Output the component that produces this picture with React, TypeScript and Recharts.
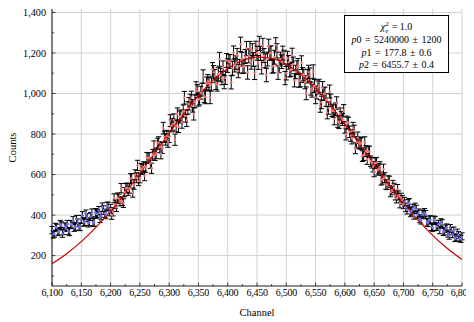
import React from "react";
import {
  CartesianGrid,
  ComposedChart,
  ErrorBar,
  Line,
  Scatter,
  XAxis,
  YAxis,
} from "recharts";

const binWidth = 4;
const fitFrom = 6200;
const fitTo = 6700;

// counts, channels 6100, 6104, ... 6800
const countsA = [
  326, 308, 337, 320, 348, 321, 338, 321, 355, 373, 344, 362, 342, 397, 368,
  387, 367, 410, 365, 405, 422, 398, 425, 402, 442,
  432, 416, 453, 487, 467, 469, 513, 535, 531, 581, 551, 584, 569, 630, 638, 636, 682, 656, 698, 696,
  752, 735, 731, 786, 790, 786, 840, 870, 840, 836, 889, 913, 889, 929, 965, 939, 961, 1012, 975, 1019,
  987, 1049, 1049, 1045, 1105, 1052, 1096, 1091, 1127, 1078, 1138, 1158, 1124, 1140, 1188, 1135, 1169, 1135, 1222, 1186,
  1154, 1167, 1223, 1153, 1198, 1237, 1161, 1170, 1199, 1134, 1179, 1211, 1136, 1157, 1179, 1100, 1154, 1118, 1146, 1106,
  1139, 1066, 1095, 1056, 1085, 1093, 1014, 1037, 1005, 1038, 956, 997, 968, 928, 966, 913, 923, 862, 899, 872,
  833, 859, 811, 779, 815, 758, 758, 756, 696, 716, 714, 666, 638, 656, 622, 638, 577, 585, 549, 568,
  523, 534, 482, 497, 486, 453,
  438, 455, 412, 432, 438, 402, 382, 405, 412, 365, 376, 343, 376, 343, 355,
  363, 317, 333, 309, 335, 306, 286, 313, 286, 295,
];

// counts for the bins in between, channels 6102, 6106, ... 6798
const countsB = [
  304, 341, 316, 355, 308, 343, 355, 316, 352, 338, 379, 342, 379, 364, 405,
  360, 393, 363, 412, 406, 383, 439, 409, 443, 417,
  399, 483, 438, 481, 533, 459, 533, 520, 580, 511, 599, 645, 583, 626, 594, 683, 682, 631, 739, 705,
  759, 704, 829, 773, 762, 866, 848, 772, 899, 884, 858, 979, 867, 949, 980, 899, 1026, 969, 1004, 1084,
  981, 1061, 981, 1119, 1086, 1044, 1169, 1076, 1056, 1163, 1158, 1055, 1200, 1152, 1111, 1243, 1132, 1183, 1104, 1222,
  1211, 1102, 1199, 1247, 1130, 1187, 1091, 1233, 1200, 1136, 1240, 1103, 1170, 1199, 1076, 1174, 1115, 1189, 1065, 1128,
  1063, 1152, 1087, 1001, 1106, 1024, 1108, 981, 1030, 938, 1027, 1000, 905, 1010, 917, 875, 953, 856, 882, 915,
  799, 853, 792, 829, 730, 782, 752, 691, 759, 676, 713, 658, 614, 659, 629, 572, 626, 551, 570, 513,
  548, 497, 528, 457, 475,
  466, 426, 460, 420, 400, 428, 410, 375, 402, 403, 362, 377, 338, 373, 342,
  326, 358, 320, 338, 298, 321, 323, 290, 301, 282,
];

// fitted gaussian, read every 25 channels
const curveChannels = [
  6100, 6125, 6150, 6175, 6200, 6225, 6250, 6275, 6300, 6325, 6350, 6375, 6400, 6425, 6450,
  6475, 6500, 6525, 6550, 6575, 6600, 6625, 6650, 6675, 6700, 6725, 6750, 6775, 6800,
];
const curveCounts = [
  159.6, 209.2, 269.2, 339.4, 419.5, 508.5, 604.3, 704.1, 804.2, 900.6, 988.8, 1064.5, 1123.5, 1162.5, 1179.4,
  1173.1, 1143.9, 1093.7, 1025.2, 942.1, 848.9, 749.9, 649.5, 551.5, 459.1, 374.8, 299.9, 235.3, 181.0,
];

const xMajorTicks = [6100, 6150, 6200, 6250, 6300, 6350, 6400, 6450, 6500, 6550, 6600, 6650, 6700, 6750, 6800];
const xMinorTicks = [6125, 6175, 6225, 6275, 6325, 6375, 6425, 6475, 6525, 6575, 6625, 6675, 6725, 6775];
const yMajorTicks = [200, 400, 600, 800, 1000, 1200, 1400];
const yMinorTicks = [100, 300, 500, 700, 900, 1100, 1300];

const fitLines = ["p0 = 5240000 ± 1200", "p1 = 177.8 ± 0.6", "p2 = 6455.7 ± 0.4"];

const points = [
  ...countsA.map((c, i) => ({ x: 6100 + i * binWidth, y: c })),
  ...countsB.map((c, i) => ({ x: 6102 + i * binWidth, y: c })),
]
  .sort((a, b) => a.x - b.x)
  .map((p) => ({ ...p, err: Math.sqrt(p.y) }));
const tailPoints = points.filter((p) => p.x < fitFrom || p.x > fitTo);
const fitPoints = points.filter((p) => p.x >= fitFrom && p.x <= fitTo);
const curve = curveChannels.map((x, i) => ({ x, y: curveCounts[i] }));

const xTicks = [...xMajorTicks, ...xMinorTicks].sort((a, b) => a - b);
const yTicks = [...yMajorTicks, ...yMinorTicks].sort((a, b) => a - b);
const lastX = xMajorTicks[xMajorTicks.length - 1];

const FONT = "'Liberation Serif', 'DejaVu Serif', serif";

function BottomTick({ x, y, payload }: any) {
  const major = payload.value % 50 === 0;
  // the last label sits against the page edge, keep it inside
  const isLast = payload.value === lastX;
  return (
    <g>
      <line x1={x} x2={x} y1={y} y2={y - (major ? 3.5 : 2)} stroke="#000" strokeWidth={0.7} />
      {major && (
        <text
          x={isLast ? x + 10 : x}
          y={y + 9.8}
          textAnchor={isLast ? "end" : "middle"}
          fontSize={10}
          letterSpacing={-0.25}
          fill="#000"
          fontFamily={FONT}
        >
          {payload.value.toLocaleString("en-US")}
        </text>
      )}
    </g>
  );
}

function TopTick({ x, y, payload }: any) {
  const major = payload.value % 50 === 0;
  return <line x1={x} x2={x} y1={y} y2={y + (major ? 3.5 : 2)} stroke="#000" strokeWidth={0.7} />;
}

function LeftTick({ x, y, payload }: any) {
  const major = payload.value % 200 === 0;
  return (
    <g>
      <line x1={x} x2={x + (major ? 3.5 : 2)} y1={y} y2={y} stroke="#000" strokeWidth={0.7} />
      {major && (
        <text x={x - 6} y={y + 3.6} textAnchor="end" fontSize={10.2} fill="#000" fontFamily={FONT}>
          {payload.value.toLocaleString("en-US")}
        </text>
      )}
    </g>
  );
}

function RightTick({ x, y, payload }: any) {
  const major = payload.value % 200 === 0;
  return <line x1={x} x2={x - (major ? 3.5 : 2)} y1={y} y2={y} stroke="#000" strokeWidth={0.7} />;
}

function dotShape(color: string) {
  return (props: any) => <circle cx={props.cx} cy={props.cy} r={1.2} fill={color} />;
}

export default function App() {
  return (
    <div style={{ position: "relative", width: 474, height: 322, margin: "-8px 0 0 -8px", fontFamily: FONT }}>
      <ComposedChart width={474} height={322} margin={{ top: 9, right: 12, bottom: 0, left: 0 }}>
        <CartesianGrid
          xAxisId="b"
          yAxisId="l"
          stroke="#d2d2d2"
          strokeWidth={1}
          verticalValues={xMajorTicks}
          horizontalValues={yMajorTicks}
        />
        <XAxis
          xAxisId="b"
          dataKey="x"
          type="number"
          domain={[6100, 6800]}
          allowDataOverflow
          ticks={xTicks}
          interval={0}
          tickLine={false}
          tickSize={0}
          tickMargin={0}
          height={36}
          axisLine={{ stroke: "#000", strokeWidth: 0.9 }}
          tick={<BottomTick />}
          label={{ value: "Channel", position: "insideBottom", offset: 6, fontSize: 10.5, fill: "#000" }}
        />
        <XAxis
          xAxisId="t"
          orientation="top"
          dataKey="x"
          type="number"
          domain={[6100, 6800]}
          allowDataOverflow
          ticks={xTicks}
          interval={0}
          tickLine={false}
          tickSize={0}
          tickMargin={0}
          height={0}
          axisLine={{ stroke: "#000", strokeWidth: 0.9 }}
          tick={<TopTick />}
        />
        <YAxis
          yAxisId="l"
          dataKey="y"
          type="number"
          domain={[50, 1417]}
          allowDataOverflow
          ticks={yTicks}
          interval={0}
          tickLine={false}
          tickSize={0}
          tickMargin={0}
          width={52}
          axisLine={{ stroke: "#000", strokeWidth: 0.9 }}
          tick={<LeftTick />}
          label={{
            value: "Counts",
            angle: -90,
            position: "insideLeft",
            offset: 12,
            fontSize: 10.5,
            fill: "#000",
            style: { textAnchor: "middle" },
          }}
        />
        <YAxis
          yAxisId="r"
          orientation="right"
          dataKey="y"
          type="number"
          domain={[50, 1417]}
          allowDataOverflow
          ticks={yTicks}
          interval={0}
          tickLine={false}
          tickSize={0}
          tickMargin={0}
          width={0}
          axisLine={{ stroke: "#000", strokeWidth: 0.9 }}
          tick={<RightTick />}
        />
        <Scatter
          xAxisId="b"
          yAxisId="l"
          data={tailPoints}
          shape={dotShape("#7777ff")}
          isAnimationActive={false}
        >
          <ErrorBar dataKey="err" direction="y" width={2.6} stroke="#000" strokeWidth={1} />
        </Scatter>
        <Scatter
          xAxisId="b"
          yAxisId="l"
          data={fitPoints}
          shape={dotShape("#ff7070")}
          isAnimationActive={false}
        >
          <ErrorBar dataKey="err" direction="y" width={2.6} stroke="#000" strokeWidth={1} />
        </Scatter>
        <Line
          xAxisId="b"
          yAxisId="l"
          data={curve}
          dataKey="y"
          type="monotone"
          dot={false}
          stroke="#c80000"
          strokeWidth={1.2}
          isAnimationActive={false}
        />
      </ComposedChart>
      <div
        style={{
          position: "absolute",
          left: 344,
          top: 15,
          width: 105,
          height: 58,
          boxSizing: "border-box",
          border: "1px solid #000",
          background: "#fff",
          fontSize: 10,
          textAlign: "center",
          paddingTop: 4,
        }}
      >
        <div style={{ height: 14, lineHeight: "14px" }}>
          <i>χ</i>
          <span
            style={{
              display: "inline-flex",
              flexDirection: "column",
              fontSize: 7,
              lineHeight: "7px",
              verticalAlign: "middle",
              marginRight: 3,
            }}
          >
            <span>2</span>
            <i>ν</i>
          </span>
          = 1.0
        </div>
        {fitLines.map((t) => {
          const [name, rest] = t.split(" = ");
          return (
            <div key={t} style={{ height: 12.7, lineHeight: "12.7px", wordSpacing: 1 }}>
              <i>p</i>
              {name.slice(1)} = {rest}
            </div>
          );
        })}
      </div>
    </div>
  );
}
